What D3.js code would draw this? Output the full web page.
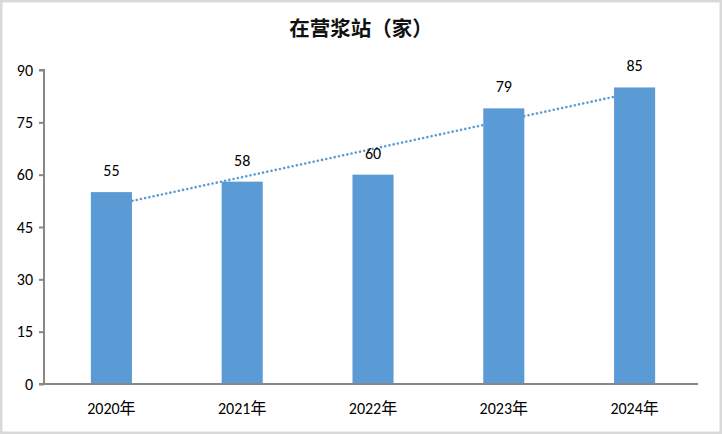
<!DOCTYPE html>
<html><head><meta charset="utf-8">
<script src="https://cdn.jsdelivr.net/npm/d3@7"></script>
<style>
html,body{margin:0;padding:0;background:#fff;}
svg{display:block;}
</style></head>
<body>
<svg id="chart" width="722" height="434"></svg>
<script>
const categories = ["2020年","2021年","2022年","2023年","2024年"];
const values = [55, 58, 60, 79, 85];
const yTicks = [0, 15, 30, 45, 60, 75, 90];
const title = "在营浆站（家）";

const W = 722, H = 434;
const m = {left: 44, right: 24, top: 70, bottom: 50};
const svg = d3.select("#chart");
const latin = "Carlito, 'Liberation Sans', 'Noto Sans CJK SC', sans-serif";

svg.append("rect").attr("x",1.25).attr("y",1.25).attr("width",W-2.5).attr("height",H-2.5)
  .attr("fill","#fff").attr("stroke","#d9d9d9").attr("stroke-width",2.5);

const x = d3.scaleBand().domain(categories).range([m.left + 2, W - m.right + 2])
  .paddingInner(0.686).paddingOuter(0.343);
const y = d3.scaleLinear().domain([0, 90]).range([H - m.bottom, m.top]);

svg.append("text").attr("x", W/2).attr("y", 36).attr("text-anchor","middle")
  .attr("font-family","'Noto Sans CJK SC', sans-serif").attr("font-weight","bold")
  .attr("font-size",20.5).attr("fill","#111").text(title);

// trendline (linear regression) drawn beneath bars
const n = values.length;
const xs = values.map((d,i)=>i+1);
const mx = d3.mean(xs), my = d3.mean(values);
const slope = d3.sum(xs.map((xi,i)=>(xi-mx)*(values[i]-my))) / d3.sum(xs.map(xi=>(xi-mx)*(xi-mx)));
const icpt = my - slope*mx;
const cx = c => x(c) + x.bandwidth()/2;
svg.append("line")
  .attr("x1", cx(categories[0])).attr("y1", y(icpt + slope*1))
  .attr("x2", cx(categories[n-1])).attr("y2", y(icpt + slope*n))
  .attr("stroke","#5b9bd5").attr("stroke-width",2.6)
  .attr("stroke-linecap","round").attr("stroke-dasharray","0.01 4.3");

svg.selectAll("rect.bar").data(values).join("rect").attr("class","bar")
  .attr("x",(d,i)=>x(categories[i])).attr("width",x.bandwidth())
  .attr("y",d=>y(d)).attr("height",d=>y(0)-y(d)).attr("fill","#5b9bd5");

svg.selectAll("text.val").data(values).join("text").attr("class","val")
  .attr("x",(d,i)=>cx(categories[i])).attr("y",d=>y(d)-16)
  .attr("text-anchor","middle").attr("font-family",latin).attr("font-size",16)
  .attr("fill","#000").text(d=>d);

// y axis
const yAxis = svg.append("g").attr("transform",`translate(${m.left},0)`)
  .call(d3.axisLeft(y).tickValues(yTicks).tickSize(5).tickPadding(6));
yAxis.select(".domain").attr("stroke","#878787").attr("stroke-width",2)
  .attr("d", `M-5,${y(90)}H0V${y(0)}`);
yAxis.selectAll(".tick line").attr("stroke","#878787").attr("stroke-width",2);
yAxis.selectAll(".tick text").attr("font-family",latin).attr("font-size",16).attr("fill","#000");

// x axis
const xAxis = svg.append("g").attr("transform",`translate(0,${y(0)})`)
  .call(d3.axisBottom(x).tickSize(0).tickPadding(19));
xAxis.select(".domain").attr("stroke","#878787").attr("stroke-width",2)
  .attr("d", `M${m.left-5},0H${W-m.right}`);
xAxis.selectAll(".tick text").attr("font-family",latin).attr("font-size",16).attr("fill","#000");
</script>
</body></html>
